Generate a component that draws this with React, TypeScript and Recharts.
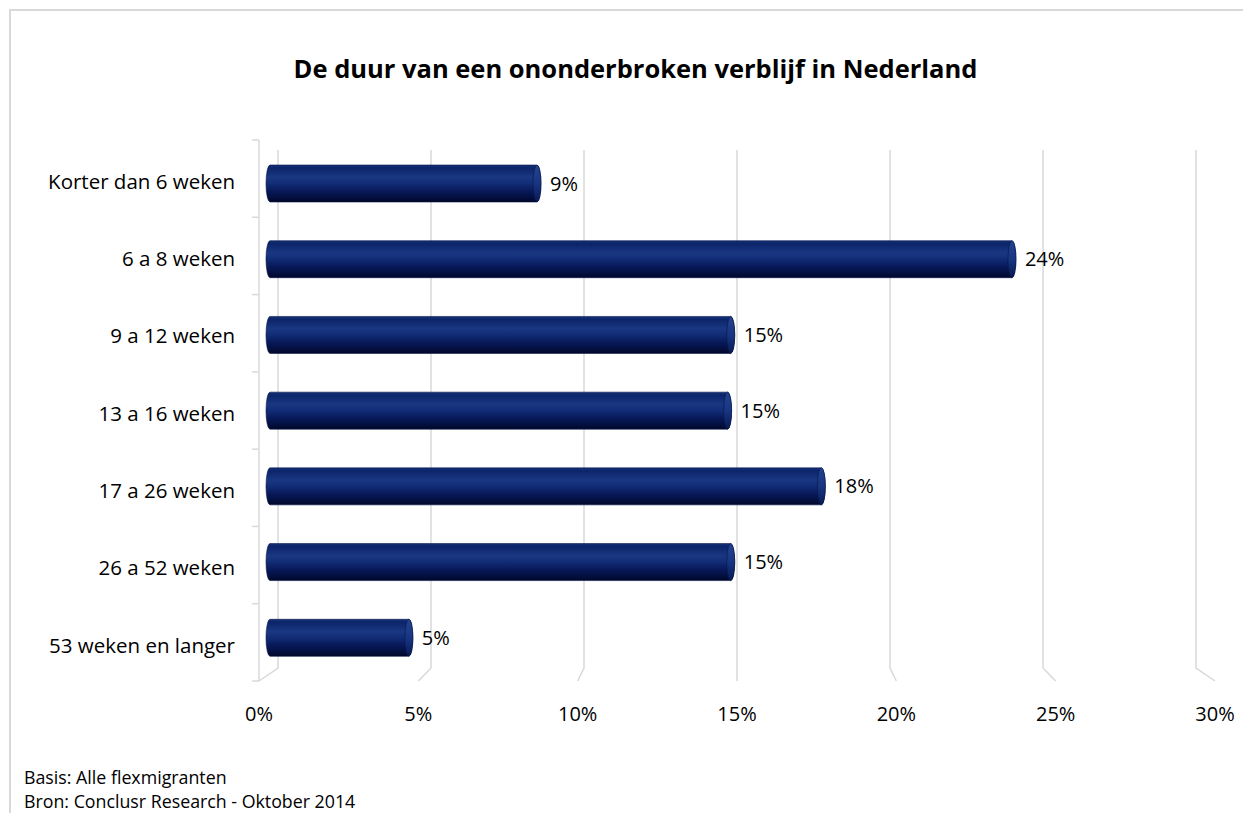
import React from 'react';
import { BarChart, Bar, XAxis, YAxis, CartesianGrid, LabelList } from 'recharts';

const categories = [
  'Korter dan 6 weken',
  '6 a 8 weken',
  '9 a 12 weken',
  '13 a 16 weken',
  '17 a 26 weken',
  '26 a 52 weken',
  '53 weken en langer',
];
const shares = [8.8, 24.0, 15.0, 14.9, 17.9, 15.0, 4.7];
const percentTicks = [0, 5, 10, 15, 20, 25, 30];

const data = categories.map((name, i) => ({ name, value: shares[i] }));

// plot box (front plane)
const PLOT_LEFT = 259;
const PLOT_WIDTH = 956;
const PLOT_TOP = 140;
const PLOT_HEIGHT = 541;
const BAND = PLOT_HEIGHT / categories.length;
// back wall and bar plane are slightly narrower (fake 3D perspective)
const GRID_DOMAIN: [number, number] = [-0.621, 30.62];
const BAR_DOMAIN: [number, number] = [-0.224, 30.37];
const GRID_COLOR = '#d9d9d9';
const FONT = '"Open Sans", "Noto Sans", sans-serif';

function GridLine(props: any) {
  const { x1, y1, y2 } = props;
  // value of this back gridline, then its position on the front plane
  const value = GRID_DOMAIN[0] + ((x1 - PLOT_LEFT) / PLOT_WIDTH) * (GRID_DOMAIN[1] - GRID_DOMAIN[0]);
  const front = PLOT_LEFT + (value / 30) * PLOT_WIDTH;
  return (
    <path
      key={`grid-${x1}`}
      d={`M${x1},${y1 + 10}V${y2 - 13}L${front},${y2}`}
      stroke={GRID_COLOR}
      strokeWidth={1.5}
      fill="none"
    />
  );
}

function CylinderBar(props: any) {
  const { x, y, width, height } = props;
  if (!width || width <= 0) return null;
  const r = 4;
  const h2 = height / 2;
  const body = `M${x + r},${y}H${x + width - r}A${r},${h2} 0 0 1 ${x + width - r},${y + height}H${x + r}A${r},${h2} 0 0 1 ${x + r},${y}Z`;
  return (
    <g>
      <path d={body} fill="url(#cylFill)" stroke="#06154a" strokeWidth={0.6} />
      <ellipse cx={x + width - r} cy={y + h2} rx={r} ry={h2} fill="url(#capFill)" stroke="#06154a" strokeWidth={0.6} />
    </g>
  );
}

// category label plus the small tick marks on the band boundaries
function CategoryTick(props: any) {
  const { x, y, payload, index } = props;
  const axisX = x + 24;
  const last = index === categories.length - 1;
  return (
    <g>
      <line x1={axisX - 7} x2={axisX} y1={y - BAND / 2} y2={y - BAND / 2} stroke={GRID_COLOR} strokeWidth={1.5} />
      {last && <line x1={axisX - 7} x2={axisX} y1={y + BAND / 2} y2={y + BAND / 2} stroke={GRID_COLOR} strokeWidth={1.5} />}
      <text x={x} y={y + 3} dy="0.355em" textAnchor="end" fill="#000" fontSize={20.5} fontFamily={FONT}>
        {payload.value}
      </text>
    </g>
  );
}

export default function App() {
  return (
    <div style={{ position: 'relative', width: 1251, height: 821, margin: -8, overflow: 'hidden', background: '#fff', fontFamily: FONT }}>
      <svg width={0} height={0} style={{ position: 'absolute' }}>
        <defs>
          <linearGradient id="cylFill" x1="0" y1="0" x2="0" y2="1">
            <stop offset="0" stopColor="#15307a" />
            <stop offset="0.08" stopColor="#0c2569" />
            <stop offset="0.33" stopColor="#1a3783" />
            <stop offset="0.48" stopColor="#132e78" />
            <stop offset="0.7" stopColor="#08195a" />
            <stop offset="0.9" stopColor="#030e3c" />
            <stop offset="1" stopColor="#000626" />
          </linearGradient>
          <linearGradient id="capFill" x1="0" y1="0" x2="0" y2="1">
            <stop offset="0" stopColor="#24438f" />
            <stop offset="0.5" stopColor="#183581" />
            <stop offset="1" stopColor="#071a55" />
          </linearGradient>
        </defs>
      </svg>

      <div style={{ position: 'absolute', left: 9, top: 9, width: 1300, height: 900, borderLeft: `2px solid ${GRID_COLOR}`, borderTop: `2px solid ${GRID_COLOR}` }} />

      <div style={{ position: 'absolute', left: 10, top: 51, width: 1251, textAlign: 'center', fontSize: 25.5, fontWeight: 700, color: '#000' }}>
        De duur van een ononderbroken verblijf in Nederland
      </div>

      <div style={{ position: 'absolute', left: 0, top: 0 }}>
        <BarChart
          width={1251}
          height={821}
          layout="vertical"
          data={data}
          margin={{ top: PLOT_TOP, right: 36, bottom: 100, left: PLOT_LEFT - 1 }}
        >
          <CartesianGrid xAxisId="grid" yAxisId="cat" horizontal={false} vertical={GridLine} syncWithTicks />
          <XAxis xAxisId="bar" type="number" hide height={0} domain={BAR_DOMAIN} allowDataOverflow />
          <XAxis xAxisId="grid" type="number" hide height={0} domain={GRID_DOMAIN} ticks={percentTicks} allowDataOverflow />
          <XAxis
            xAxisId="front"
            type="number"
            orientation="bottom"
            domain={[0, 30]}
            ticks={percentTicks}
            allowDataOverflow
            height={40}
            axisLine={false}
            tickLine={false}
            tickMargin={20}
            tickFormatter={(v: number) => `${v}%`}
            tick={{ fill: '#000', fontSize: 20, fontFamily: FONT }}
          />
          <YAxis yAxisId="bars" type="category" dataKey="name" hide width={0} padding={{ top: 6, bottom: 5 }} />
          <YAxis
            yAxisId="cat"
            type="category"
            dataKey="name"
            width={1}
            axisLine={{ stroke: GRID_COLOR, strokeWidth: 1.5 }}
            tickLine={false}
            tickSize={0}
            tickMargin={24}
            tick={CategoryTick}
          />
          <Bar
            dataKey="value"
            xAxisId="bar"
            yAxisId="bars"
            barSize={37}
            shape={CylinderBar}
            isAnimationActive={false}
          >
            <LabelList
              dataKey="value"
              position="right"
              offset={9}
              formatter={(v: any) => `${Math.round(Number(v))}%`}
              fill="#000"
              fontSize={20}
              fontFamily={FONT}
            />
          </Bar>
        </BarChart>
      </div>

      <div style={{ position: 'absolute', left: 24, top: 765, fontSize: 17.8, lineHeight: '24px', color: '#000' }}>
        <div>Basis: Alle flexmigranten</div>
        <div>Bron: Conclusr Research - Oktober 2014</div>
      </div>
    </div>
  );
}
